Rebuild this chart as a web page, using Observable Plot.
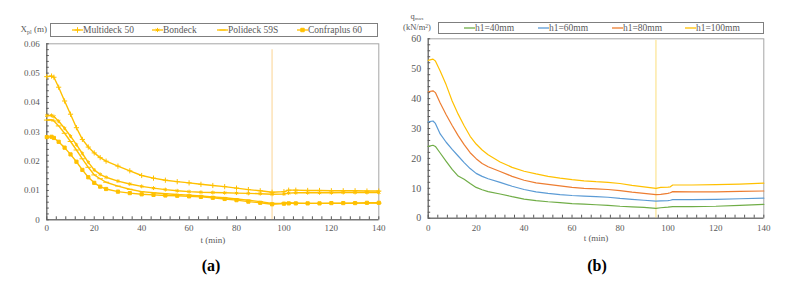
<!DOCTYPE html>
<html><head><meta charset="utf-8">
<script src="https://cdn.jsdelivr.net/npm/d3@7"></script>
<script src="https://cdn.jsdelivr.net/npm/@observablehq/plot@0.6"></script>
<style>
body{margin:0;background:#fff;}
#wrap{position:relative;width:791px;height:299px;font-family:"Liberation Serif","Times New Roman",serif;color:#595959;overflow:hidden;background:#fff;}
#wrap svg{font-family:"Liberation Serif","Times New Roman",serif !important;}
.panel{position:absolute;top:0;}
.legend{position:absolute;box-sizing:border-box;border:1px solid #7f7f7f;font-size:9.5px;background:#fff;}
.item{position:absolute;top:0;bottom:0;display:flex;align-items:center;white-space:nowrap;}
.ylab{position:absolute;font-size:9px;text-align:right;line-height:8px;}
.cap{position:absolute;font-size:16px;font-weight:bold;color:#000;transform:translateX(-50%);}
</style></head>
<body><div id="wrap"></div>
<script>
// ---------- Panel (a) data ----------
const tA = [0,2,3,5,7.5,10,12.5,15,17.5,20,22.5,25,30,35,40,45,50,55,60,65,70,75,80,85,90,95,100,102,105,110,115,120,125,130,135,140];
const multideck50 = [0.0488,0.0490,0.0486,0.0452,0.0405,0.0360,0.0314,0.0274,0.0248,0.0228,0.0212,0.0200,0.0183,0.0167,0.0151,0.0142,0.0135,0.0130,0.0126,0.0121,0.0117,0.0113,0.0108,0.0103,0.0099,0.0094,0.0096,0.0101,0.0101,0.0100,0.0100,0.0099,0.0099,0.0099,0.0098,0.0098];
const bondeck = [0.0355,0.0356,0.0352,0.0336,0.0312,0.0285,0.0256,0.0226,0.0196,0.0170,0.0155,0.0145,0.0132,0.0122,0.0114,0.0108,0.0103,0.0099,0.0096,0.0094,0.0093,0.0092,0.0091,0.0090,0.0089,0.0087,0.0088,0.0091,0.0092,0.0092,0.0092,0.0092,0.0093,0.0093,0.0093,0.0093];
const polideck59S = [0.0340,0.0341,0.0337,0.0320,0.0295,0.0267,0.0238,0.0208,0.0179,0.0153,0.0140,0.0128,0.0115,0.0104,0.0096,0.0092,0.0089,0.0086,0.0084,0.0081,0.0078,0.0075,0.0071,0.0067,0.0062,0.0056,0.0057,0.0058,0.0057,0.0056,0.0056,0.0056,0.0056,0.0057,0.0057,0.0057];
const confraplus60 = [0.0282,0.0283,0.0279,0.0266,0.0246,0.0223,0.0198,0.0170,0.0145,0.0126,0.0113,0.0105,0.0096,0.0091,0.0087,0.0085,0.0083,0.0082,0.0080,0.0078,0.0075,0.0071,0.0067,0.0062,0.0058,0.0053,0.0055,0.0056,0.0056,0.0056,0.0056,0.0057,0.0057,0.0057,0.0058,0.0058];
const namesA = ["Multideck 50","Bondeck","Polideck 59S","Confraplus 60"];
const valuesA = [multideck50, bondeck, polideck59S, confraplus60];
const yTicksA = [0,0.01,0.02,0.03,0.04,0.05,0.06];
const yLabelsA = ["0","0.01","0.02","0.03","0.04","0.05","0.06"];

// ---------- Panel (b) data ----------
const tB = [0,2,3,5,7.5,10,12.5,15,17.5,20,22.5,25,30,35,40,45,50,55,60,65,70,75,80,85,90,95,97,100,101,102,110,120,130,140];
const h40 = [24.0,24.4,24.0,21.8,19.0,16.3,14.1,13.0,11.6,10.3,9.5,8.9,8.1,7.2,6.4,5.9,5.5,5.2,4.9,4.7,4.5,4.3,4.0,3.8,3.6,3.3,3.5,3.7,3.8,3.9,3.9,4.0,4.3,4.6];
const h60 = [32.2,32.5,31.7,28.2,25.4,23.0,20.8,18.6,16.6,15.0,14.0,13.2,12.0,10.7,9.6,8.8,8.3,7.9,7.6,7.4,7.2,7.0,6.6,6.3,6.0,5.7,5.8,5.9,6.0,6.2,6.2,6.3,6.5,6.7];
const h80 = [42.3,42.6,42.0,38.5,34.6,31.0,27.6,24.6,21.9,19.9,18.3,17.2,15.6,14.0,12.7,11.8,11.3,10.8,10.3,10.0,9.8,9.6,9.2,8.7,8.3,7.9,8.0,8.3,8.5,8.9,8.8,8.8,9.0,9.1];
const h100 = [52.8,53.2,52.6,49.2,44.6,39.2,34.8,30.9,27.4,24.8,22.8,21.2,18.8,17.0,15.7,14.8,14.0,13.4,12.9,12.5,12.2,12.0,11.6,11.0,10.5,10.0,10.3,10.4,10.5,11.1,11.1,11.2,11.4,11.7];
const namesB = ["h1=40mm","h1=60mm","h1=80mm","h1=100mm"];
const valuesB = [h40, h60, h80, h100];
const colorsB = ["#70AD47","#5B9BD5","#ED7D31","#FFC000"];
const yTicksB = [0,10,20,30,40,50,60];
const xTicks = [0,20,40,60,80,100,120,140];
const markLine = 95;

// ---------- helpers ----------
const yellow = "#FFC000";
const dash = {draw(ctx, size){const r = Math.sqrt(size)*0.9; ctx.moveTo(-r,0); ctx.lineTo(r,0);}};
const symbolsA = ["plus","asterisk",dash,"square"];
const dataA = namesA.flatMap((name,i)=>tA.map((t,j)=>({name,t,v:valuesA[i][j]})));
const dataB = namesB.flatMap((name,i)=>tB.map((t,j)=>({name,t,v:valuesB[i][j]})));
const style = {fontFamily:"'Liberation Serif','Times New Roman',serif",fontSize:"9px",color:"#595959",background:"transparent",overflow:"visible"};
const minorX = d3.range(0,36).map(i=>i*4);

const wrap = document.getElementById("wrap");
function place(el,left){const d=document.createElement("div");d.className="panel";d.style.left=left+"px";d.appendChild(el);wrap.appendChild(d);}

const plotA = Plot.plot({
  width:395, height:250, marginLeft:46.3, marginRight:16.7, marginTop:43.3, marginBottom:30.7,
  style,
  x:{domain:[0,140]}, y:{domain:[0,0.06]},
  marks:[
    Plot.frame({stroke:"#a6a6a6"}),
    Plot.ruleX([markLine],{y1:0,y2:0.058,stroke:"#FDE2B6",strokeWidth:1.5}),
    Plot.axisX({ticks:minorX,tickSize:-3,tickFormat:()=>"",label:null,stroke:"#595959"}),
    Plot.axisX({ticks:xTicks,tickSize:0,tickPadding:5,label:null}),
    Plot.axisY({ticks:d3.range(0,31).map(i=>i*0.002),tickSize:-2.5,tickFormat:()=>"",label:null,stroke:"#595959"}),
    Plot.axisY({ticks:yTicksA,tickSize:0,tickPadding:7,tickFormat:(d,i)=>yLabelsA[i],label:null}),
    Plot.ruleY([0],{stroke:"#595959"}),
    Plot.ruleX([0],{stroke:"#595959"}),
    Plot.text(["t (min)"],{frameAnchor:"bottom",dy:23,fill:"#595959",fontSize:9}),
    Plot.line(dataA,{x:"t",y:"v",z:"name",stroke:yellow,strokeWidth:1.4}),
    ...namesA.map((n,i)=>Plot.dot(dataA.filter(d=>d.name===n),{x:"t",y:"v",symbol:symbolsA[i],r:1.8,stroke:yellow,fill:i===3?yellow:"none",strokeWidth:1}))
  ]
});
place(plotA,0);

const plotB = Plot.plot({
  width:396, height:250, marginLeft:32.7, marginRight:27.7, marginTop:38.3, marginBottom:32.3,
  style,
  x:{domain:[0,140]}, y:{domain:[0,60]},
  color:{domain:namesB,range:colorsB},
  marks:[
    Plot.frame({stroke:"#a6a6a6"}),
    Plot.ruleX([markLine],{y1:0,y2:59.5,stroke:"#FDE9A8",strokeWidth:1.5}),
    Plot.axisX({ticks:minorX,tickSize:-3,tickFormat:()=>"",label:null,stroke:"#595959"}),
    Plot.axisX({ticks:xTicks,tickSize:0,tickPadding:6,label:null}),
    Plot.axisY({ticks:d3.range(0,31).map(i=>i*2),tickSize:-2.5,tickFormat:()=>"",label:null,stroke:"#595959"}),
    Plot.axisY({ticks:yTicksB,tickSize:0,tickPadding:7,label:null,fontSize:10}),
    Plot.ruleY([0],{stroke:"#595959"}),
    Plot.ruleX([0],{stroke:"#595959"}),
    Plot.text(["t (min)"],{frameAnchor:"bottom",dy:23,fill:"#595959",fontSize:9}),
    Plot.line(dataB,{x:"t",y:"v",z:"name",stroke:"name",strokeWidth:1.2})
  ]
});
place(plotB,395);

// ---------- legends & labels ----------
function legend(left,top,width,height,names,offsets,colors,symbols){
  const box=document.createElement("div");box.className="legend";
  Object.assign(box.style,{left:left+"px",top:top+"px",width:width+"px",height:height+"px"});
  names.forEach((n,i)=>{
    const it=document.createElement("div");it.className="item";it.style.left=offsets[i]+"px";
    const ns="http://www.w3.org/2000/svg";
    const s=document.createElementNS(ns,"svg");s.setAttribute("width","11");s.setAttribute("height","8");
    const l=document.createElementNS(ns,"line");
    l.setAttribute("x1","0");l.setAttribute("x2","11");l.setAttribute("y1","4");l.setAttribute("y2","4");
    l.setAttribute("stroke",colors[i]);l.setAttribute("stroke-width","1.3");s.appendChild(l);
    if(symbols){
      const p=document.createElementNS(ns,"path");
      const sym=symbols[i];
      const t = typeof sym==="string" ? {plus:d3.symbolPlus,asterisk:d3.symbolAsterisk,square:d3.symbolSquare}[sym] : sym;
      p.setAttribute("d",d3.symbol(t,12)());p.setAttribute("transform","translate(5.5,4)");
      p.setAttribute("stroke",colors[i]);p.setAttribute("fill",i===3?colors[i]:"none");s.appendChild(p);
    }
    it.appendChild(s);
    const tx=document.createElement("span");tx.textContent=n;it.appendChild(tx);
    box.appendChild(it);
  });
  wrap.appendChild(box);
}
legend(50,23,328,13.5,namesA,[21,101,166,246],namesA.map(()=>yellow),symbolsA);
legend(438,21.5,325.5,12,namesB,[25,99,173,246],colorsB,null);

const la=document.createElement("div");la.className="ylab";
Object.assign(la.style,{left:"8px",width:"39px",top:"25px",lineHeight:"9px"});
la.innerHTML='X<sub style="font-size:6px;vertical-align:-2px">pl</sub> (m)';
wrap.appendChild(la);
const lb=document.createElement("div");lb.className="ylab";
Object.assign(lb.style,{left:"399px",width:"36px",top:"12px",textAlign:"center",fontSize:"8.5px"});
lb.innerHTML='q<sub style="font-size:5px;vertical-align:-1px">max</sub><br>(kN/m<sup style="font-size:5.5px;vertical-align:2px;line-height:0">2</sup>)';
wrap.appendChild(lb);

const ca=document.createElement("div");ca.className="cap";ca.textContent="(a)";
Object.assign(ca.style,{left:"211px",top:"257px"});wrap.appendChild(ca);
const cb=document.createElement("div");cb.className="cap";cb.textContent="(b)";
Object.assign(cb.style,{left:"597px",top:"257px"});wrap.appendChild(cb);
</script></body></html>
